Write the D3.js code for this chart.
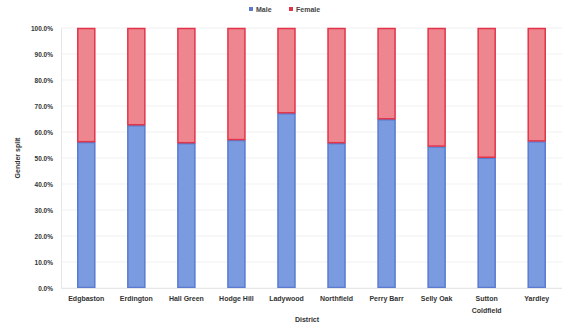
<!DOCTYPE html>
<html>
<head>
<meta charset="utf-8">
<script src="https://cdn.jsdelivr.net/npm/d3@7"></script>
<style>
  html, body { margin: 0; padding: 0; background: #fff; }
  svg { display: block; font-family: "Liberation Sans", Arial, sans-serif; }
</style>
</head>
<body>
<svg id="chart" width="562" height="331"></svg>
<script>
// Gender split by district (share of male / female, %)
const districts = ["Edgbaston", "Erdington", "Hall Green", "Hodge Hill", "Ladywood",
                   "Northfield", "Perry Barr", "Selly Oak", "Sutton Coldfield", "Yardley"];
const male = [56.1, 62.6, 55.7, 56.9, 67.2, 55.7, 64.9, 54.4, 50.1, 56.4];
const female = male.map(m => 100 - m);
const yTicks = [0, 10, 20, 30, 40, 50, 60, 70, 80, 90, 100];
const seriesNames = ["Male", "Female"];

const colors = {
  Male:   { fill: "#7b9be0", stroke: "#5a7bd0" },
  Female: { fill: "#ee8690", stroke: "#e2354a" }
};

const svg = d3.select("#chart");
const margin = { left: 61, right: 0, top: 28, bottom: 43 };
const W = 562, H = 331;

const x = d3.scaleBand()
  .domain(districts)
  .range([margin.left, W - margin.right])
  .paddingInner(0.63)
  .paddingOuter(0.32);

const y = d3.scaleLinear()
  .domain([0, 100])
  .range([H - margin.bottom, margin.top]);

// faint horizontal gridlines
svg.append("g")
  .selectAll("line")
  .data(yTicks)
  .join("line")
  .attr("x1", margin.left)
  .attr("x2", W - margin.right)
  .attr("y1", d => y(d))
  .attr("y2", d => y(d))
  .attr("stroke", "#f1f1f1")
  .attr("stroke-width", 1);

// y axis
const yAxis = d3.axisLeft(y)
  .tickValues(yTicks)
  .tickFormat(d => d.toFixed(1) + "%")
  .tickSize(0)
  .tickPadding(8);

const gy = svg.append("g")
  .attr("transform", `translate(${margin.left},0)`)
  .call(yAxis);
gy.select(".domain").attr("stroke", "#e6e6e6");
gy.selectAll("text")
  .attr("font-size", 6.5)
  .attr("font-weight", "bold")
  .attr("fill", "#333");

// stacked bars
const stackData = districts.map((d, i) => ({ district: d, Male: male[i], Female: female[i] }));
const stacked = d3.stack().keys(seriesNames)(stackData);

svg.append("g")
  .selectAll("g")
  .data(stacked)
  .join("g")
  .each(function(series) {
    d3.select(this)
      .selectAll("rect")
      .data(series)
      .join("rect")
      .attr("x", d => x(d.data.district) + 0.75)
      .attr("width", x.bandwidth() - 1.5)
      .attr("y", d => y(d[1]) + 0.5)
      .attr("height", d => Math.max(0, y(d[0]) - y(d[1]) - 1))
      .attr("fill", colors[series.key].fill)
      .attr("stroke", colors[series.key].stroke)
      .attr("stroke-width", 1.5);
  });

// x axis with category labels
const xAxis = d3.axisBottom(x).tickSize(0).tickPadding(8);
const gx = svg.append("g")
  .attr("transform", `translate(0,${y(0)})`)
  .call(xAxis);
gx.select(".domain").attr("stroke", "#e6e6e6");
gx.selectAll("text")
  .attr("font-size", 7)
  .attr("font-weight", "bold")
  .attr("fill", "#333")
  .each(function(d) {
    const t = d3.select(this);
    const words = d.split(" ");
    if (d === "Sutton Coldfield") {
      t.text(null);
      words.forEach((w, i) => {
        t.append("tspan")
          .attr("x", 0)
          .attr("dy", i === 0 ? "0.71em" : "1.7em")
          .text(w);
      });
    }
  });

// axis titles
svg.append("text")
  .attr("x", 307)
  .attr("y", 322)
  .attr("text-anchor", "middle")
  .attr("font-size", 7)
  .attr("font-weight", "bold")
  .attr("fill", "#333")
  .text("District");

svg.append("text")
  .attr("transform", `translate(20,${(y(0) + y(100)) / 2}) rotate(-90)`)
  .attr("text-anchor", "middle")
  .attr("font-size", 7)
  .attr("font-weight", "bold")
  .attr("fill", "#333")
  .text("Gender split");

// legend
const legend = svg.append("g").attr("transform", "translate(249,9)");
const legendX = [0, 40];
seriesNames.forEach((name, i) => {
  const g = legend.append("g").attr("transform", `translate(${legendX[i]},0)`);
  g.append("rect")
    .attr("x", 0).attr("y", -2)
    .attr("width", 4).attr("height", 4)
    .attr("fill", colors[name].stroke);
  g.append("text")
    .attr("x", 7).attr("y", 2.5)
    .attr("font-size", 7)
    .attr("font-weight", "bold")
    .attr("fill", "#444")
    .text(name);
});
</script>
</body>
</html>
